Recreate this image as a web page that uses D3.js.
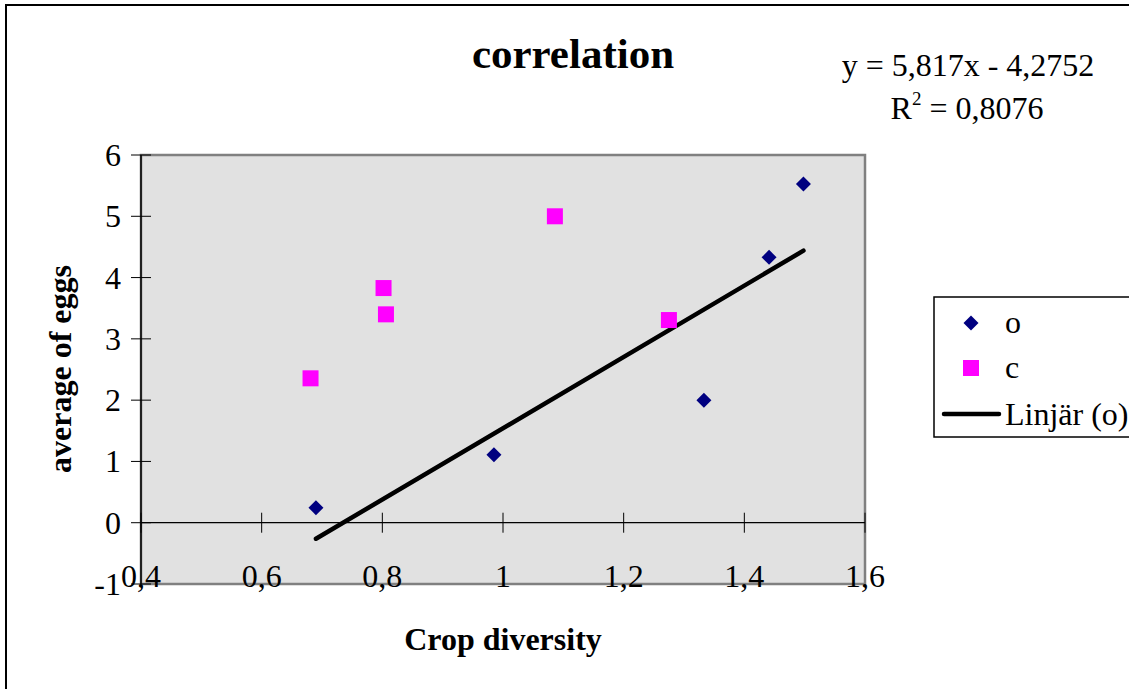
<!DOCTYPE html>
<html>
<head>
<meta charset="utf-8">
<script src="https://cdn.jsdelivr.net/npm/d3@7"></script>
<style>
  body { margin: 0; background: #fff; }
  svg { display: block; font-family: "Liberation Serif", "Times New Roman", serif; }
</style>
</head>
<body>
<script>
// series o (navy diamonds) and c (magenta squares)
var oX = [0.690, 0.985, 1.333, 1.441, 1.498];
var oY = [0.245, 1.109, 1.997, 4.330, 5.525];
var cX = [0.681, 0.802, 0.806, 1.086, 1.275];
var cY = [2.356, 3.829, 3.400, 5.000, 3.307];

var xTicks = [0.4, 0.6, 0.8, 1.0, 1.2, 1.4, 1.6];
var yTicks = [-1, 0, 1, 2, 3, 4, 5, 6];

var slope = 5.817, intercept = -4.2752;
var eqText = "y = 5,817x - 4,2752";
var r2Text = " = 0,8076";

var W = 1129, H = 689;
var plot = {left: 141, right: 865, top: 155, bottom: 584};
var fs = 32;

var svg = d3.select("body").append("svg")
  .attr("width", W)
  .attr("height", H);

// outer chart border (only left + top visible)
svg.append("path")
  .attr("d", "M6,689 V5 H1129")
  .attr("fill", "none")
  .attr("stroke", "#000")
  .attr("stroke-width", 2);

var x = d3.scaleLinear().domain([0.4, 1.6]).range([plot.left, plot.right]);
var y = d3.scaleLinear().domain([-1, 6]).range([plot.bottom, plot.top]);

var fmt = function(d) { return String(+d.toFixed(1)).replace(".", ","); };

// plot area
svg.append("rect")
  .attr("x", plot.left).attr("y", plot.top)
  .attr("width", plot.right - plot.left).attr("height", plot.bottom - plot.top)
  .attr("fill", "#e1e1e1")
  .attr("stroke", "#808080")
  .attr("stroke-width", 2.5);

// y axis (at x = 0.4), ticks cross the line
var yAxis = svg.append("g").attr("transform", "translate(" + plot.left + ",0)");
yAxis.append("line")
  .attr("y1", y(-1)).attr("y2", y(6))
  .attr("stroke", "#000").attr("stroke-width", 1.5);
yAxis.selectAll(".tk").data(yTicks).enter().append("line")
  .attr("x1", -10).attr("x2", 10)
  .attr("y1", function(d) { return y(d); })
  .attr("y2", function(d) { return y(d); })
  .attr("stroke", "#000").attr("stroke-width", 1);
yAxis.selectAll(".lb").data(yTicks).enter().append("text")
  .attr("x", -20)
  .attr("y", function(d) { return y(d) + 11; })
  .attr("text-anchor", "end")
  .attr("font-size", fs)
  .text(function(d) { return d; });

// x axis (at y = 0), ticks cross the line, labels near bottom
var xAxis = svg.append("g").attr("transform", "translate(0," + y(0) + ")");
xAxis.append("line")
  .attr("x1", x(0.4)).attr("x2", x(1.6))
  .attr("stroke", "#000").attr("stroke-width", 1.2);
xAxis.selectAll(".tk").data(xTicks).enter().append("line")
  .attr("x1", function(d) { return x(d); })
  .attr("x2", function(d) { return x(d); })
  .attr("y1", -10).attr("y2", 10)
  .attr("stroke", "#000").attr("stroke-width", 1);
svg.selectAll(".xlb").data(xTicks).enter().append("text")
  .attr("x", function(d) { return x(d); })
  .attr("y", 587)
  .attr("text-anchor", "middle")
  .attr("font-size", fs)
  .text(fmt);

// trend line over range of o
var xr = d3.extent(oX);
svg.append("line")
  .attr("x1", x(xr[0])).attr("y1", y(slope * xr[0] + intercept))
  .attr("x2", x(xr[1])).attr("y2", y(slope * xr[1] + intercept))
  .attr("stroke", "#000").attr("stroke-width", 4.5)
  .attr("stroke-linecap", "round");

var diamond = "M0,-7.5 L7.5,0 L0,7.5 L-7.5,0 Z";

svg.selectAll(".o").data(oX).enter().append("path")
  .attr("d", diamond)
  .attr("transform", function(d, i) { return "translate(" + x(d) + "," + y(oY[i]) + ")"; })
  .attr("fill", "#000080");

svg.selectAll(".c").data(cX).enter().append("rect")
  .attr("x", function(d) { return x(d) - 8; })
  .attr("y", function(d, i) { return y(cY[i]) - 8; })
  .attr("width", 16).attr("height", 16)
  .attr("fill", "#ff00ff");

// titles
svg.append("text")
  .attr("x", 573).attr("y", 68)
  .attr("text-anchor", "middle")
  .attr("font-size", 43).attr("font-weight", "bold")
  .text("correlation");

svg.append("text")
  .attr("x", 503).attr("y", 650)
  .attr("text-anchor", "middle")
  .attr("font-size", fs).attr("font-weight", "bold")
  .text("Crop diversity");

svg.append("text")
  .attr("transform", "translate(71,369) rotate(-90)")
  .attr("text-anchor", "middle")
  .attr("font-size", fs).attr("font-weight", "bold")
  .text("average of eggs");

// equation
svg.append("text")
  .attr("x", 968).attr("y", 76)
  .attr("text-anchor", "middle")
  .attr("font-size", fs)
  .text(eqText);

var r2 = svg.append("text")
  .attr("x", 967).attr("y", 119)
  .attr("text-anchor", "middle")
  .attr("font-size", fs);
r2.append("tspan").text("R");
r2.append("tspan").attr("font-size", 19).attr("dy", -14).text("2");
r2.append("tspan").attr("dy", 14).text(r2Text);

// legend
var lg = svg.append("g");
lg.append("rect")
  .attr("x", 934).attr("y", 297)
  .attr("width", 220).attr("height", 140)
  .attr("fill", "#fff").attr("stroke", "#000").attr("stroke-width", 1.5);
lg.append("path").attr("d", diamond)
  .attr("transform", "translate(971,323)").attr("fill", "#000080");
lg.append("rect")
  .attr("x", 963).attr("y", 360).attr("width", 16).attr("height", 16)
  .attr("fill", "#ff00ff");
lg.append("line")
  .attr("x1", 944).attr("x2", 999).attr("y1", 414).attr("y2", 414)
  .attr("stroke", "#000").attr("stroke-width", 4.5).attr("stroke-linecap", "round");
var legendLabels = ["o", "c", "Linjär (o)"];
var legendY = [333, 378, 425];
lg.selectAll(".lt").data(legendLabels).enter().append("text")
  .attr("x", 1005)
  .attr("y", function(d, i) { return legendY[i]; })
  .attr("font-size", fs)
  .text(function(d) { return d; });
</script>
</body>
</html>
